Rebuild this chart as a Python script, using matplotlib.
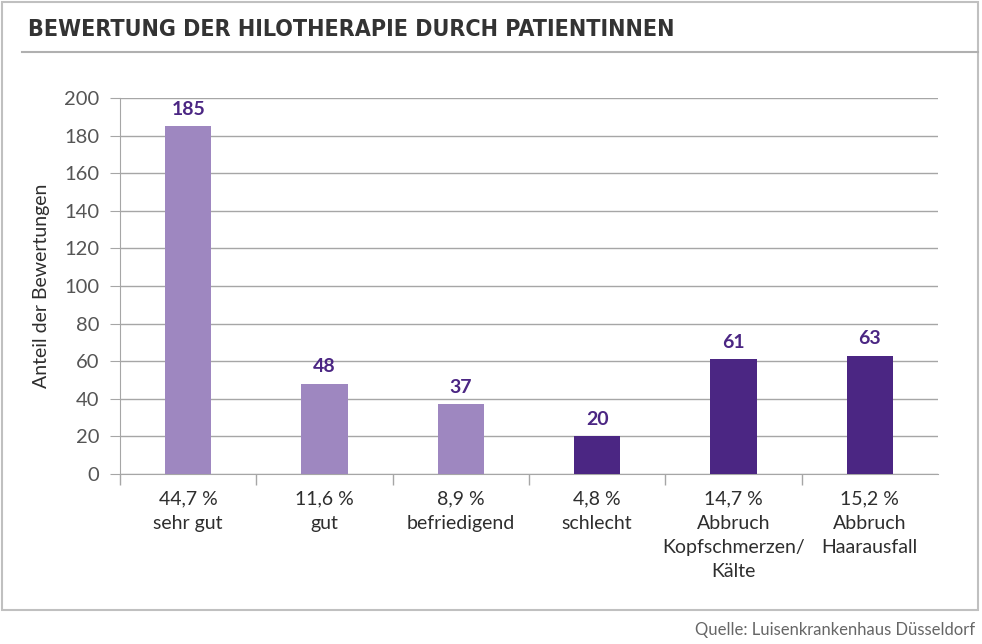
import matplotlib.pyplot as plt
from matplotlib.patches import Rectangle
from matplotlib.lines import Line2D

# Daten: Bewertung der Hilotherapie
kategorien = ["44,7 %\nsehr gut", "11,6 %\ngut", "8,9 %\nbefriedigend",
              "4,8 %\nschlecht", "14,7 %\nAbbruch\nKopfschmerzen/\nKälte",
              "15,2 %\nAbbruch\nHaarausfall"]
anzahl = [185, 48, 37, 20, 61, 63]
farben = ["#9e87c0", "#9e87c0", "#9e87c0", "#4b2683", "#4b2683", "#4b2683"]
yticks = [0, 20, 40, 60, 80, 100, 120, 140, 160, 180, 200]

plt.rcParams["font.family"] = ["Lato", "DejaVu Sans"]
grau = "#a6a6a6"
text_farbe = "#2e2e2e"
lila = "#4b2683"

fig = plt.figure(figsize=(9.82, 6.44), dpi=100)

# Rahmen und Titel
fig.patches.append(Rectangle((2 / 982, 1 - 610 / 644), 976 / 982, 608 / 644,
                             transform=fig.transFigure, fill=False,
                             edgecolor="#c0c0c0", linewidth=1.5))
fig.lines.append(Line2D([22 / 982, 978 / 982], [1 - 52 / 644, 1 - 52 / 644],
                        transform=fig.transFigure, color="#b0b0b0", linewidth=1.5))
fig.text(28 / 982, 1 - 30 / 644, "BEWERTUNG DER HILOTHERAPIE DURCH PATIENTINNEN",
         fontsize=16.7, fontweight="bold", fontstretch="condensed",
         family=["DejaVu Sans"], color="#333333", va="center", ha="left")
fig.text(975 / 982, 1 - 630 / 644, "Quelle: Luisenkrankenhaus Düsseldorf",
         fontsize=12, color="#666666", ha="right", va="center")

ax = fig.add_axes([120 / 982, 170 / 644, 818 / 982, 376 / 644])
x = list(range(len(anzahl)))
ax.bar(x, anzahl, width=0.34, color=farben, zorder=3)

for xi, v in zip(x, anzahl):
    ax.annotate(str(v), (xi, v), xytext=(0, 6), textcoords="offset points",
                ha="center", va="bottom", fontsize=14, fontweight="bold",
                color=lila)

ax.set_xlim(-0.5, 5.5)
ax.set_ylim(0, 200)
ax.set_yticks(yticks)
ax.yaxis.grid(True, color=grau, linewidth=1, zorder=0)
ax.tick_params(axis="y", length=7, color=grau, labelsize=14.5,
               labelcolor="#555555", pad=8)

ax.set_xticks(x)
ax.set_xticklabels(kategorien, fontsize=14, color=text_farbe, linespacing=1.5)
ax.tick_params(axis="x", which="major", length=0, pad=12)
ax.set_xticks([-0.5, 0.5, 1.5, 2.5, 3.5, 4.5], minor=True)
ax.tick_params(axis="x", which="minor", length=8, color=grau, width=1)

ax.set_ylabel("Anteil der Bewertungen", fontsize=14, color=text_farbe, labelpad=10)

for s in ["top", "right"]:
    ax.spines[s].set_visible(False)
ax.spines["left"].set_color(grau)
ax.spines["bottom"].set_color(grau)

fig.savefig("out.png", dpi=100)
